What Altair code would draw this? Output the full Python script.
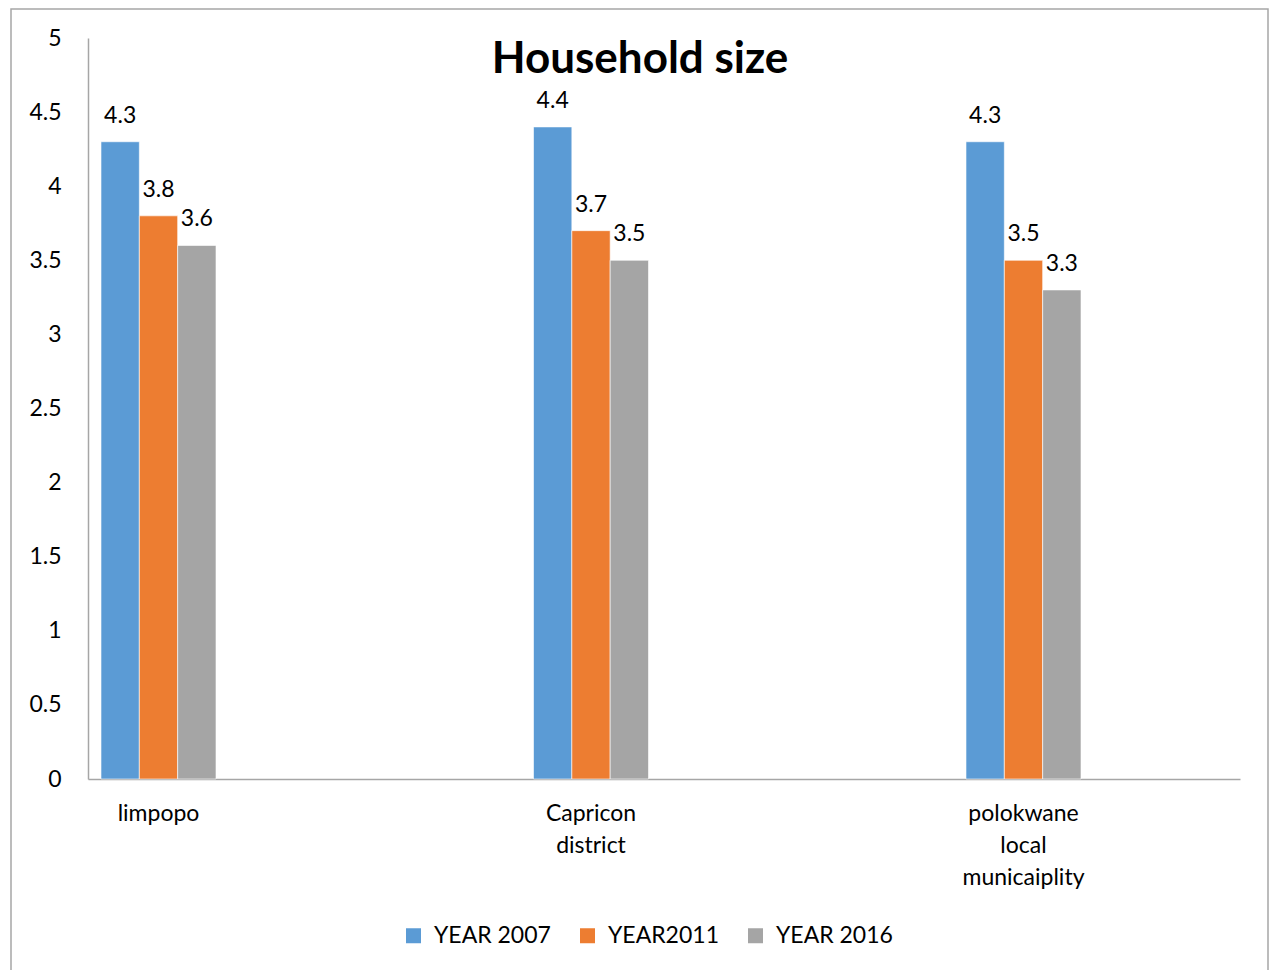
import altair as alt
import pandas as pd

categories = ["limpopo", "Capricon district", "polokwane local municaiplity"]
series = ["YEAR 2007", "YEAR2011", "YEAR 2016"]
year2007 = [4.3, 4.4, 4.3]
year2011 = [3.8, 3.7, 3.5]
year2016 = [3.6, 3.5, 3.3]
colors = ["#5B9BD5", "#ED7D31", "#A5A5A5"]
y_ticks = [0, 0.5, 1, 1.5, 2, 2.5, 3, 3.5, 4, 4.5, 5]

rows = []
for s, vals in zip(series, [year2007, year2011, year2016]):
    for c, v in zip(categories, vals):
        rows.append({"category": c, "series": s, "value": v})
df = pd.DataFrame(rows)

FONT = "Lato"
GRAY = "#A6A6A6"

x_enc = alt.X(
    "category:N",
    sort=categories,
    scale=alt.Scale(paddingInner=0.7341, paddingOuter=0.19885, align=0.0756),
    axis=alt.Axis(
        title=None,
        labelAngle=0,
        ticks=False,
        domainColor=GRAY,
        domainWidth=1.5,
        labelFont=FONT,
        labelFontSize=23,
        labelColor="#000000",
        labelPadding=23,
        labelLineHeight=32,
        labelBaseline="top",
        labelExpr="split(datum.label, ' ')",
    ),
)
xoff = alt.XOffset("series:N", sort=series)
y_enc = alt.Y(
    "value:Q",
    scale=alt.Scale(domain=[0, 5], nice=False, zero=True),
    axis=alt.Axis(
        title=None,
        values=y_ticks,
        format="~g",
        grid=False,
        ticks=False,
        domainColor=GRAY,
        domainWidth=1.5,
        labelFont=FONT,
        labelFontSize=23,
        labelColor="#000000",
        labelPadding=27,
    ),
)

bars = alt.Chart(df).mark_bar(stroke="white", strokeWidth=0.6).encode(
    x=x_enc,
    xOffset=xoff,
    y=y_enc,
    color=alt.Color(
        "series:N",
        sort=series,
        scale=alt.Scale(domain=series, range=colors),
        legend=alt.Legend(
            title=None,
            orient="none",
            direction="horizontal",
            legendX=314,
            legendY=886,
            padding=0,
            symbolType="square",
            symbolSize=225,
            symbolStrokeWidth=0,
            labelFont=FONT,
            labelFontSize=23,
            labelColor="#000000",
            labelOffset=9,
            columnPadding=25,
        ),
    ),
)

labels = alt.Chart(df).mark_text(
    font=FONT, fontSize=23, color="#000000", baseline="alphabetic", dy=-19
).encode(
    x=alt.X("category:N", sort=categories),
    xOffset=xoff,
    y="value:Q",
    text=alt.Text("value:Q", format=".1f"),
)

frame = alt.Chart(alt.Data(values=[{"f": 1}])).mark_rect(
    filled=False, stroke=GRAY, strokeWidth=1.5
).encode(
    x=alt.value(-77), x2=alt.value(1180), y=alt.value(-29), y2=alt.value(960)
)

chart = alt.layer(frame, bars, labels).properties(
    width=1152,
    height=741,
    autosize=alt.AutoSizeParams(type="none"),
    padding={"left": 88, "top": 38, "right": 32, "bottom": 191},
    background="white",
    title=alt.Title(
        "Household size",
        font=FONT,
        fontSize=44,
        fontWeight="bold",
        color="#000000",
        anchor="middle",
        baseline="alphabetic",
        offset=0,
        dy=109,
        dx=-24,
    ),
).configure_view(stroke=None)

chart.save("out.html", embed_options={"renderer": "svg", "actions": False})
